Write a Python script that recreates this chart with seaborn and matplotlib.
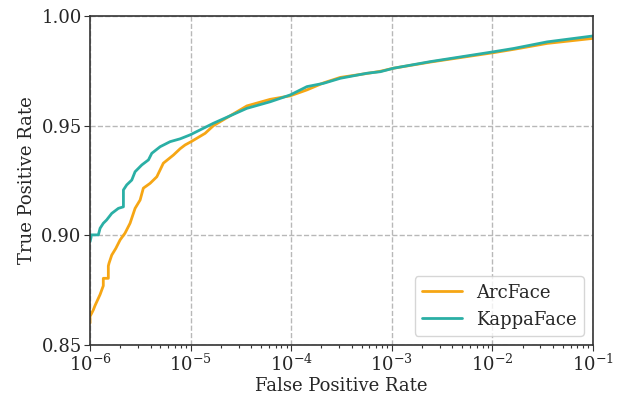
import numpy as np
import pandas as pd
import matplotlib
matplotlib.use("Agg")
import matplotlib.pyplot as plt
import seaborn as sns

# log10(FPR) and TPR
arc_logfpr = [-6.0, -6.0, -5.967, -5.95, -5.917, -5.90, -5.884, -5.868, -5.868, -5.818, -5.818,
              -5.811, -5.784, -5.744, -5.701, -5.652, -5.602, -5.552, -5.502, -5.470,
              -5.403, -5.336, -5.271, -5.171, -5.104, -5.055, -4.995, -4.856, -4.773,
              -4.441, -4.209, -4.010, -3.844, -3.679, -3.512, -3.247, -3.114, -2.982,
              -2.617, -1.987, -1.788, -1.456, -1.0]
arc_tpr = [0.8600, 0.8630, 0.8660, 0.8680, 0.8713, 0.8730, 0.8750, 0.8770, 0.8804, 0.8804, 0.8860,
           0.8873, 0.8910, 0.8940, 0.8979, 0.9010, 0.9055, 0.9123, 0.9161, 0.9215,
           0.9237, 0.9267, 0.9329, 0.9366, 0.9395, 0.9412, 0.9427, 0.9465, 0.9500,
           0.9590, 0.9620, 0.9636, 0.9663, 0.9695, 0.9720, 0.9738, 0.9748, 0.9762,
           0.9790, 0.9833, 0.9848, 0.9875, 0.9898]

kappa_logfpr = [-6.0, -5.99, -5.99, -5.917, -5.90, -5.868, -5.835, -5.784, -5.718, -5.668,
                -5.668, -5.635, -5.585, -5.552, -5.485, -5.419, -5.386, -5.303, -5.204,
                -5.104, -5.005, -4.773, -4.441, -4.209, -4.010, -3.844, -3.679, -3.512,
                -3.247, -3.114, -2.982, -2.617, -1.987, -1.788, -1.456, -1.0]
kappa_tpr = [0.8971, 0.8990, 0.9002, 0.9002, 0.9032, 0.9055, 0.9070, 0.9100, 0.9123, 0.9130,
             0.9207, 0.9230, 0.9252, 0.9290, 0.9321, 0.9344, 0.9374, 0.9404, 0.9427,
             0.9440, 0.9458, 0.9511, 0.9579, 0.9609, 0.9640, 0.9678, 0.9693, 0.9716,
             0.9739, 0.9746, 0.9762, 0.9792, 0.9837, 0.9852, 0.9882, 0.9909]

methods = ["ArcFace", "KappaFace"]
colors = ["#F6A614", "#2AAFA5"]
xticks = [1e-6, 1e-5, 1e-4, 1e-3, 1e-2, 1e-1]
yticks = [0.85, 0.90, 0.95, 1.00]

df = pd.concat([
    pd.DataFrame({"fpr": 10 ** np.array(arc_logfpr), "tpr": arc_tpr, "method": methods[0]}),
    pd.DataFrame({"fpr": 10 ** np.array(kappa_logfpr), "tpr": kappa_tpr, "method": methods[1]}),
])

sns.set_style("ticks")
plt.rcParams["font.family"] = ["DejaVu Serif"]
plt.rcParams["mathtext.fontset"] = "dejavuserif"

fig = plt.figure(figsize=(6.26, 3.98), dpi=100)
ax = fig.add_axes([0.1438, 0.1332, 0.9473 - 0.1438, 0.9598 - 0.1332])

sns.lineplot(data=df, x="fpr", y="tpr", hue="method", palette=colors, sort=False,
             estimator=None, ax=ax, linewidth=2)

ax.set_xscale("log")
ax.set_xlim(1e-6, 1e-1)
ax.set_ylim(0.85, 1.0)
ax.set_xticks(xticks)
ax.set_yticks(yticks)
ax.set_yticklabels([f"{v:.2f}" for v in yticks])
ax.grid(True, which="major", linestyle="--", color="#b8b8b8", linewidth=1)
ax.tick_params(axis="both", which="major", labelsize=13, direction="out", color="#333333",
               length=4, pad=2)
ax.tick_params(axis="x", which="minor", direction="out", color="#333333", length=2.5, width=0.8)
for s in ax.spines.values():
    s.set_color("#333333")
    s.set_linewidth(1.2)
ax.set_xlabel("False Positive Rate", fontsize=13, labelpad=2)
ax.set_ylabel("True Positive Rate", fontsize=13, labelpad=4)
leg = ax.legend(loc="lower right", fontsize=13, title=None, handlelength=2.2)

fig.savefig("out.png", dpi=100)
